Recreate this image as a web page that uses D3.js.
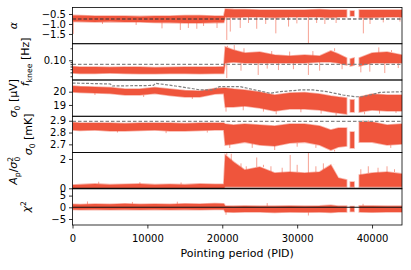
<!DOCTYPE html>
<html lang="en">
<head>
<meta charset="UTF-8">
<title>Noise parameters vs pointing period</title>
<script src="https://d3js.org/d3.v7.min.js"></script>
<style>
  body { margin: 0; background: #fff; font-family: 'DejaVu Sans', sans-serif; }
  .tick text { font-size: 10px; font-family: 'DejaVu Sans', sans-serif; }
  .tick line { stroke: #000; stroke-width: 0.8; }
</style>
</head>
<body>
<div id="chart"></div>
<script>
// knots along the pointing-period axis (null entries = gaps in the data)
const PID = [0, 1000, 3000, 5000, 7000, 9000, 11000, 13000, 15000, 17000, 19000, 20200,
  20400, 21500, 23000, 25000, 27000, 29000, 31000, 33000, 34500, 35500, 36600,
  36700, 37100, 37600, 37700, 38300, 40000, 42000, 44000];

// alpha (1/f slope)
const alphaHi = [-0.57, -0.58, -0.6, -0.6, -0.6, -0.62, -0.6, -0.6, -0.58, -0.58, -0.6, -0.6,
  -0.25, -0.27, -0.28, -0.3, -0.3, -0.3, -0.3, -0.28, -0.3, -0.3, -0.3, null, -0.35, -0.35, null, -0.3, -0.3, -0.3, -0.3];
const alphaLo = [-0.87, -0.88, -0.9, -0.88, -0.9, -0.9, -0.92, -0.93, -0.95, -0.95, -0.93, -0.92,
  -0.65, -0.68, -0.65, -0.65, -0.68, -0.65, -0.65, -0.65, -0.68, -0.65, -0.65, null, -0.6, -0.6, null, -0.68, -0.68, -0.65, -0.65];
const alphaSpikes = [[100, -1.5], [4000, -1.0], [8500, -1.05], [11950, -1.22], [14400, -1.3], [15470, -1.2],
  [16600, -1.24], [17500, -1.1], [19300, -1.2], [20600, -1.8], [21070, -1.38], [22400, -1.2], [23500, -0.95],
  [24600, -1.24], [25800, -1.0], [27150, -1.47], [28850, -1.13], [29960, -0.97], [31500, -1.97], [32600, -0.95],
  [33700, -1.0], [35200, -0.95], [38840, -1.47], [39730, -1.0], [41500, -0.92], [43730, -0.88]];
const alphaRef = -0.75;

// f_knee [Hz]
const fkHi = [0.070, 0.068, 0.068, 0.067, 0.068, 0.068, 0.066, 0.067, 0.068, 0.068, 0.068, 0.069,
  0.215, 0.181, 0.152, 0.161, 0.136, 0.128, 0.136, 0.128, 0.171, 0.144, 0.114, null, 0.108, 0.114, null, 0.114, 0.152, 0.161, 0.136];
const fkLo = [0.048, 0.047, 0.047, 0.048, 0.047, 0.046, 0.046, 0.047, 0.047, 0.046, 0.047, 0.047,
  0.086, 0.091, 0.086, 0.086, 0.086, 0.086, 0.086, 0.091, 0.091, 0.086, 0.076, null, 0.072, 0.076, null, 0.072, 0.086, 0.086, 0.086];
const fkSpikes = [[20600, 0.036], [20700, 0.23], [21600, 0.24], [22500, 0.055], [22900, 0.2], [24800, 0.043],
  [26000, 0.062], [26600, 0.17], [27500, 0.057], [29000, 0.165], [29500, 0.06], [31500, 0.043], [32100, 0.17],
  [33000, 0.055], [35000, 0.2], [36000, 0.06], [38500, 0.05], [39700, 0.052], [40900, 0.21], [41700, 0.048],
  [42600, 0.18], [43500, 0.064]];
const fkRef = 0.079;

// sigma0 [uV]
const sigUHi = [20.43, 20.39, 20.35, 20.32, 20.2, 20.2, 20.32, 20.2, 20.09, 20.05, 20.24, 20.28,
  20.28, 20.2, 20.13, 19.98, 19.75, 19.9, 19.94, 19.83, 19.68, 19.6, 19.53, null, 19.38, 19.38, null, 19.6, 19.83, 19.75, 19.75];
const sigULo = [19.98, 19.94, 19.9, 19.86, 19.75, 19.75, 19.86, 19.71, 19.6, 19.6, 19.83, 19.86,
  18.85, 18.85, 18.92, 18.77, 18.55, 18.7, 18.7, 18.62, 18.47, 18.4, 18.32, null, 18.47, 18.47, null, 18.47, 18.62, 18.55, 18.55];
const sigUSpikes = [[3000, 19.75], [9500, 19.6], [16000, 19.45], [20500, 18.5], [22800, 18.6], [25500, 18.5],
  [27200, 18.3], [30500, 18.45], [33200, 18.35], [35200, 18.2], [39000, 18.3], [41000, 18.35], [43200, 18.4]];
const refPID = [0, 5070, 5300, 10800, 11070, 13730, 15730, 17070, 18800, 19600, 22400, 26400, 27730,
  30400, 32130, 34000, 36130, 37730, 38670, 39730, 41070, 44000];
const refSig = [20.65, 20.58, 20.43, 20.47, 20.63, 20.43, 20.26, 20.13, 20.13, 20.38, 20.38, 19.88, 20.0,
  20.13, 20.13, 20.0, 19.75, 19.62, 19.62, 19.75, 19.95, 20.0];

// sigma0 [mK]
const sigKHi = [2.885, 2.881, 2.881, 2.881, 2.876, 2.881, 2.881, 2.881, 2.876, 2.881, 2.881, 2.881,
  2.872, 2.864, 2.872, 2.864, 2.855, 2.872, 2.872, 2.855, 2.821, 2.838, 2.838, null, 2.804, 2.804, null, 2.889, 2.889, 2.864, 2.872];
const sigKLo = [2.821, 2.817, 2.821, 2.813, 2.813, 2.817, 2.821, 2.813, 2.813, 2.817, 2.821, 2.821,
  2.694, 2.703, 2.719, 2.694, 2.686, 2.711, 2.719, 2.694, 2.652, 2.677, 2.686, null, 2.669, 2.669, null, 2.719, 2.719, 2.694, 2.703];
const sigKSpikes = [[6000, 2.8], [12500, 2.795], [18000, 2.8], [21000, 2.669], [24000, 2.67], [27000, 2.652],
  [30000, 2.68], [32500, 2.67], [35000, 2.64], [38800, 2.906], [39500, 2.905], [42500, 2.67]];
const sigKRef = 2.895;

// A_p / sigma0^2
const apHi = [0.22, 0.25, 0.3, 0.25, 0.28, 0.3, 0.25, 0.28, 0.25, 0.3, 0.28, 0.28,
  2.27, 1.8, 1.25, 1.45, 1.04, 1.11, 1.04, 1.11, 1.59, 0.7, 0.57, null, 0.43, 0.43, null, 0.91, 1.04, 1.11, 0.98];
const apLo = [0, 0, 0, 0, 0, 0, 0, 0, 0, 0, 0, 0,
  0.1, 0.1, 0.1, 0.1, 0.1, 0.1, 0.1, 0.1, 0.1, 0.1, 0.1, null, 0.1, 0.1, null, 0.1, 0.1, 0.1, 0.1];
const apSpikes = [[3500, 0.45], [9000, 0.42], [14500, 0.4], [20600, 2.4], [21200, 2.35], [22500, 1.7],
  [23200, 1.5], [24600, 2.1], [25500, 1.6], [26500, 1.5], [28000, 1.4], [29070, 2.27], [30000, 1.6],
  [31500, 2.4], [32500, 1.5], [33500, 1.7], [34900, 1.6], [38500, 1.3], [39500, 1.5], [40800, 1.4],
  [42000, 1.5], [43000, 1.3]];

// chi^2
const chiHi = [1.3, 1.2, 1.4, 1.3, 1.5, 1.3, 1.4, 1.3, 1.5, 1.4, 1.6, 1.5,
  0.6, 0.5, 0.6, 0.5, 0.5, 0.6, 0.5, 0.6, 0.9, 0.5, 0.5, null, 0.3, 0.3, null, 0.6, 0.6, 0.5, 0.5];
const chiLo = [-0.9, -1.0, -0.9, -1.0, -0.9, -1.0, -0.9, -1.0, -0.9, -1.0, -0.9, -0.9,
  -2.0, -2.1, -2.0, -2.0, -2.2, -2.0, -2.1, -2.0, -2.2, -2.0, -2.0, null, -1.8, -1.8, null, -2.0, -2.1, -2.0, -2.0];
const chiSpikes = [[2000, 2.5], [8000, 2.3], [14000, 2.4], [20500, -3.2], [26000, 1.8], [31500, -3.5], [38800, 1.5]];

const xTicks = [0, 10000, 20000, 30000, 40000];

const W = 411, H = 270;
const M = { left: 72.5, right: 402, top: 7.5, bottom: 225 };
const RED = '#ef553c';
const ph = (M.bottom - M.top) / 6;

const x = d3.scaleLinear().domain([0, 44000]).range([M.left, M.right]);

const panels = [
  { lo: alphaLo, hi: alphaHi, spikes: alphaSpikes, dom: [-1.99, -0.175], ticks: [-0.5, -1.0, -1.5], fmt: '.1f',
    ref: alphaRef, refColor: '#333', lx: 17, label: [{ t: 'α', i: true }] },
  { lo: fkLo, hi: fkHi, spikes: fkSpikes, log: true, dom: [0.0322, 0.259], ticks: [0.1], fmt: '.2f',
    minor: [0.04, 0.05, 0.06, 0.07, 0.08, 0.09, 0.2], ref: fkRef, refColor: '#888', lx: 29,
    label: [{ t: 'f', i: true }, { t: 'knee', sub: true }, { t: ' [Hz]' }] },
  { lo: sigULo, hi: sigUHi, spikes: sigUSpikes, dom: [18.15, 20.88], ticks: [20, 19], fmt: 'd', curve: true, lx: 17,
    label: [{ t: 'σ', i: true }, { t: '0', sub: true }, { t: ' [μV]' }] },
  { lo: sigKLo, hi: sigKHi, spikes: sigKSpikes, dom: [2.631, 2.938], ticks: [2.9, 2.8, 2.7], fmt: '.1f',
    ref: sigKRef, refColor: '#888', lx: 32, label: [{ t: 'σ', i: true }, { t: '0', sub: true }, { t: ' [mK]' }] },
  { lo: apLo, hi: apHi, spikes: apSpikes, dom: [-0.03, 2.44], ticks: [0, 2], fmt: 'd', zero: true, lx: 17,
    label: [{ t: 'A', i: true }, { t: 'p', sub: true }, { t: '/' }, { t: 'σ', i: true }, { t: '2', sup: true }, { t: '0', under: true }] },
  { lo: chiLo, hi: chiHi, spikes: chiSpikes, dom: [-7.56, 7.93], ticks: [5, 0, -5], fmt: 'd', zero: true, lx: 30,
    label: [{ t: 'χ', i: true }, { t: '2', sup: true }] }
];

const svg = d3.select('#chart').append('svg')
  .attr('width', W).attr('height', H)
  .style('font-family', "'DejaVu Sans', sans-serif");

panels.forEach((p, k) => {
  const top = M.top + k * ph;
  const y = (p.log ? d3.scaleLog() : d3.scaleLinear()).domain(p.dom).range([ph, 0]);
  const g = svg.append('g').attr('transform', `translate(0,${top})`);

  svg.append('clipPath').attr('id', 'clip' + k)
    .append('rect').attr('x', M.left).attr('y', 0).attr('width', M.right - M.left).attr('height', ph);
  const plot = g.append('g').attr('clip-path', `url(#clip${k})`);

  const rows = PID.map((pid, i) => ({ pid, lo: p.lo[i], hi: p.hi[i] }));
  const area = d3.area()
    .defined(d => d.lo != null)
    .x(d => x(d.pid)).y0(d => y(d.lo)).y1(d => y(d.hi));

  // spikes, from the band edge out to the value
  const valid = rows.filter(d => d.lo != null);
  p.spikes.forEach(([pid, v]) => {
    const near = valid.reduce((a, b) => Math.abs(b.pid - pid) < Math.abs(a.pid - pid) ? b : a);
    const base = v < near.lo ? near.lo : near.hi;
    plot.append('line')
      .attr('x1', x(pid)).attr('x2', x(pid))
      .attr('y1', y(base)).attr('y2', y(v))
      .attr('stroke', RED).attr('stroke-opacity', 0.55).attr('stroke-width', 1);
  });

  plot.append('path').datum(rows)
    .attr('d', area)
    .attr('fill', RED)
    .attr('stroke', RED).attr('stroke-opacity', 0.45).attr('stroke-width', 1.6);

  if (p.ref != null) {
    plot.append('line')
      .attr('x1', M.left).attr('x2', M.right)
      .attr('y1', y(p.ref)).attr('y2', y(p.ref))
      .attr('stroke', p.refColor).attr('stroke-width', 1.1).attr('stroke-dasharray', '3.5,2');
  }
  if (p.curve) {
    const line = d3.line().x((d, i) => x(refPID[i])).y(d => y(d));
    plot.append('path').datum(refSig)
      .attr('d', line).attr('fill', 'none')
      .attr('stroke', '#808080').attr('stroke-width', 1.2).attr('stroke-dasharray', '3,1.5');
  }
  if (p.zero) {
    plot.append('line')
      .attr('x1', M.left).attr('x2', M.right)
      .attr('y1', y(0)).attr('y2', y(0))
      .attr('stroke', '#111').attr('stroke-width', 1.1);
  }

  // y axis
  const ax = g.append('g').attr('transform', `translate(${M.left},0)`)
    .call(d3.axisLeft(y).tickValues(p.ticks).tickFormat(d3.format(p.fmt)).tickSize(3.5).tickPadding(3));
  ax.select('.domain').remove();
  if (p.minor) {
    const mx = g.append('g').attr('transform', `translate(${M.left},0)`)
      .call(d3.axisLeft(y).tickValues(p.minor).tickFormat('').tickSize(2));
    mx.select('.domain').remove();
  }

  g.append('rect')
    .attr('x', M.left).attr('y', 0).attr('width', M.right - M.left).attr('height', ph)
    .attr('fill', 'none').attr('stroke', '#000').attr('stroke-width', 0.8);

  // y label (rotated, mathtext-like)
  const lab = svg.append('text')
    .attr('transform', `translate(${p.lx},${top + ph / 2}) rotate(-90)`)
    .attr('text-anchor', 'middle').attr('dy', '0.35em')
    .style('font-size', '11px');
  let shift = 0;
  p.label.forEach(s => {
    const ts = lab.append('tspan').text(s.t);
    if (s.i) ts.style('font-style', 'italic');
    let target = 0;
    if (s.sub) target = 2.5;
    if (s.sup) target = -4;
    if (s.under) { target = 2.5; ts.attr('dx', -4.6); }
    if (s.sub || s.sup || s.under) ts.style('font-size', '7.7px');
    ts.attr('dy', target - shift);
    shift = target;
  });
});

// x axis
const xa = svg.append('g').attr('transform', `translate(0,${M.bottom})`)
  .call(d3.axisBottom(x).tickValues(xTicks).tickFormat(d3.format('d')).tickSize(3.5).tickPadding(6));
xa.select('.domain').remove();

svg.append('text')
  .attr('x', (M.left + M.right) / 2).attr('y', 257)
  .attr('text-anchor', 'middle')
  .style('font-size', '11px')
  .text('Pointing period (PID)');
</script>
</body>
</html>
